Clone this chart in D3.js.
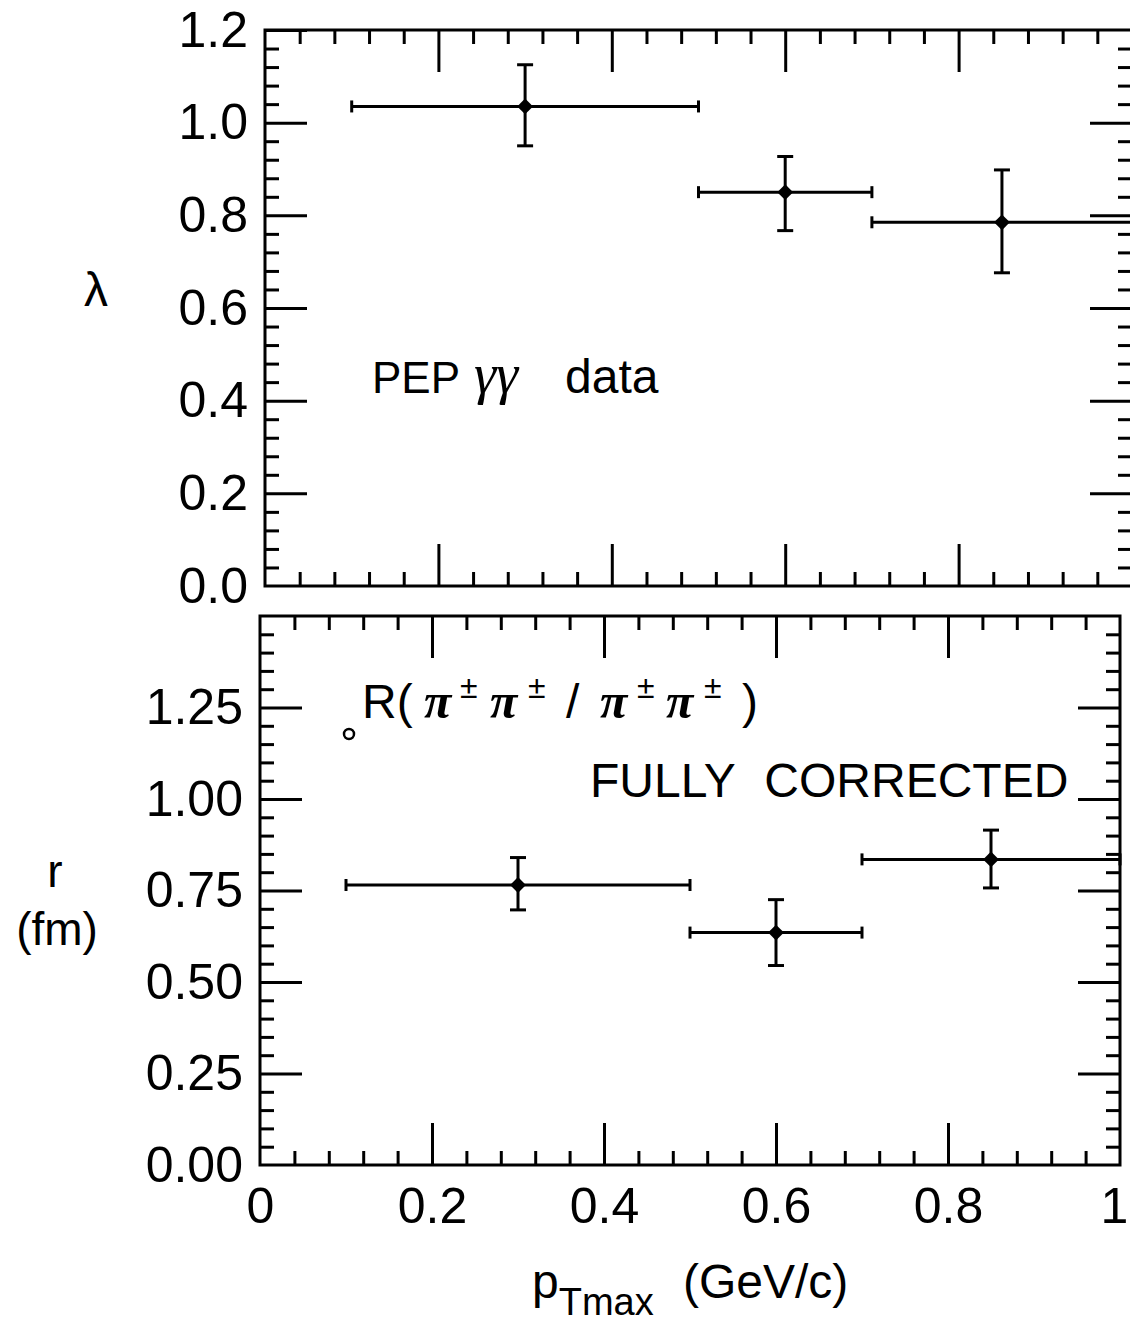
<!DOCTYPE html>
<html>
<head>
<meta charset="utf-8">
<script src="https://cdn.jsdelivr.net/npm/d3@7"></script>
<style>
  body { margin: 0; background: white; }
  svg { display: block; font-family: "Liberation Sans", Arial, sans-serif; }
</style>
</head>
<body>
<svg id="chart" width="1130" height="1325"></svg>
<script>
// bins in p_Tmax (GeV/c)
var binCenter = [0.3, 0.6, 0.85]
var binLow = [0.1, 0.5, 0.7]
var binHigh = [0.5, 0.7, 1.0]

// lambda (top panel)
var lambdaVal = [1.035, 0.85, 0.785]
var lambdaHi = [1.125, 0.927, 0.898]
var lambdaLo = [0.95, 0.767, 0.676]

// r in fm (bottom panel)
var rVal = [0.765, 0.635, 0.835]
var rHi = [0.84, 0.725, 0.915]
var rLo = [0.697, 0.545, 0.757]

// ticks
var xTicks = [0, 0.2, 0.4, 0.6, 0.8, 1]
var xTickLabels = ["0", "0.2", "0.4", "0.6", "0.8", "1"]
var lambdaTicks = [0, 0.2, 0.4, 0.6, 0.8, 1.0, 1.2]
var lambdaTickLabels = ["0.0", "0.2", "0.4", "0.6", "0.8", "1.0", "1.2"]
var rTicks = [0, 0.25, 0.5, 0.75, 1.0, 1.25]
var rTickLabels = ["0.00", "0.25", "0.50", "0.75", "1.00", "1.25"]

var svg = d3.select("#chart")

// the scan is slightly skewed, so each panel gets its own x range
var xTop = d3.scaleLinear().domain([0, 1]).range([265, 1132])
var yTop = d3.scaleLinear().domain([0, 1.2]).range([586, 30])
var xBot = d3.scaleLinear().domain([0, 1]).range([260, 1120])
var yBot = d3.scaleLinear().domain([0, 1.5]).range([1165, 616])

var majorLen = 42, minorLen = 14

function minorsOf(domain, step, majors) {
    return d3.range(domain[0] + step, domain[1] - step / 2, step)
        .filter(v => !majors.some(m => Math.abs(m - v) < 1e-6))
}

function styleAxis(g) {
    g.select(".domain").remove()
    g.selectAll("line").attr("stroke", "black").attr("stroke-width", 3)
    g.selectAll("text").attr("fill", "black").style("font-size", "50px")
}

function drawPanel(x, y, yMajors, yLabels, yMinorStep, showXLabels) {
    var g = svg.append("g")
    var yDom = y.domain()
    var xMinors = minorsOf([0, 1], 0.04, xTicks)
    var yMinors = minorsOf(yDom, yMinorStep, yMajors)
    var inner = xTicks.filter(v => v > 0 && v < 1)
    var yInner = yMajors.filter(v => v > yDom[0] && v < yDom[1])

    // left
    g.append("g").attr("transform", `translate(${x(0)},0)`)
        .call(d3.axisLeft(y).tickValues(yMajors).tickSize(-majorLen).tickPadding(17)
            .tickFormat((d, i) => yLabels[i]))
        .call(styleAxis)
        .selectAll(".tick line").filter(d => d <= yDom[0]).remove()
    g.append("g").attr("transform", `translate(${x(0)},0)`)
        .call(d3.axisLeft(y).tickValues(yMinors).tickSize(-minorLen).tickFormat(""))
        .call(styleAxis)
    // right
    g.append("g").attr("transform", `translate(${x(1)},0)`)
        .call(d3.axisRight(y).tickValues(yInner).tickSize(-majorLen).tickFormat(""))
        .call(styleAxis)
    g.append("g").attr("transform", `translate(${x(1)},0)`)
        .call(d3.axisRight(y).tickValues(yMinors).tickSize(-minorLen).tickFormat(""))
        .call(styleAxis)
    // top
    g.append("g").attr("transform", `translate(0,${y(yDom[1])})`)
        .call(d3.axisTop(x).tickValues(inner).tickSize(-majorLen).tickFormat(""))
        .call(styleAxis)
    g.append("g").attr("transform", `translate(0,${y(yDom[1])})`)
        .call(d3.axisTop(x).tickValues(xMinors).tickSize(-minorLen).tickFormat(""))
        .call(styleAxis)
    // bottom
    var bottom = g.append("g").attr("transform", `translate(0,${y(yDom[0])})`)
        .call(d3.axisBottom(x).tickValues(showXLabels ? xTicks : inner).tickSize(-majorLen).tickPadding(22)
            .tickFormat(showXLabels ? (d, i) => xTickLabels[i] : ""))
        .call(styleAxis)
    bottom.selectAll(".tick line").filter(d => d <= 0 || d >= 1).remove()
    // keep the last label inside the page
    bottom.selectAll(".tick text").filter(d => d >= 1).attr("dx", -6)
    g.append("g").attr("transform", `translate(0,${y(yDom[0])})`)
        .call(d3.axisBottom(x).tickValues(xMinors).tickSize(-minorLen).tickFormat(""))
        .call(styleAxis)

    // frame
    g.append("rect")
        .attr("x", x(0)).attr("y", y(yDom[1]))
        .attr("width", x(1) - x(0)).attr("height", y(yDom[0]) - y(yDom[1]))
        .attr("fill", "none").attr("stroke", "black").attr("stroke-width", 3)
}

function drawPoints(x, y, vals, hi, lo) {
    var g = svg.append("g").attr("stroke", "black").attr("stroke-width", 3)
    var idx = d3.range(vals.length)
    idx.forEach(i => {
        var cy = y(vals[i]), cx = x(binCenter[i])
        // horizontal bin bar with end caps
        g.append("line").attr("x1", x(binLow[i])).attr("x2", x(binHigh[i])).attr("y1", cy).attr("y2", cy)
        ;[binLow[i], binHigh[i]].forEach(b => {
            g.append("line").attr("x1", x(b)).attr("x2", x(b)).attr("y1", cy - 6).attr("y2", cy + 6)
        })
        // vertical error bar with caps
        g.append("line").attr("x1", cx).attr("x2", cx).attr("y1", y(lo[i])).attr("y2", y(hi[i]))
        ;[lo[i], hi[i]].forEach(e => {
            g.append("line").attr("x1", cx - 8).attr("x2", cx + 8).attr("y1", y(e)).attr("y2", y(e))
        })
        g.append("path")
            .attr("d", d3.symbol(d3.symbolSquare, 125)())
            .attr("transform", `translate(${cx},${cy}) rotate(45)`)
            .attr("fill", "black").attr("stroke", "none")
    })
}

drawPanel(xTop, yTop, lambdaTicks, lambdaTickLabels, 0.04, false)
drawPanel(xBot, yBot, rTicks, rTickLabels, 0.05, true)
drawPoints(xTop, yTop, lambdaVal, lambdaHi, lambdaLo)
drawPoints(xBot, yBot, rVal, rHi, rLo)

// axis titles
svg.append("text").attr("x", 96).attr("y", 306).attr("text-anchor", "middle")
    .style("font-size", "48px").text("λ")
svg.append("text").attr("x", 55).attr("y", 887).attr("text-anchor", "middle")
    .style("font-size", "46px").text("r")
svg.append("text").attr("x", 57).attr("y", 945).attr("text-anchor", "middle")
    .style("font-size", "46px").text("(fm)")

var xt = svg.append("text").attr("x", 532).attr("y", 1298).style("font-size", "48px")
xt.append("tspan").text("p")
xt.append("tspan").attr("dy", 17).style("font-size", "38px").text("Tmax")
svg.append("text").attr("x", 683).attr("y", 1298).style("font-size", "48px").text("(GeV/c)")

// panel annotations
var pep = svg.append("text").attr("x", 372).attr("y", 393).style("font-size", "44px")
pep.append("tspan").text("PEP")
pep.append("tspan").attr("x", 474).style("font-family", "Liberation Serif, serif")
    .style("font-style", "italic").style("font-size", "56px").text("γγ")
pep.append("tspan").attr("x", 565).style("font-size", "48px").text("data")

svg.append("circle").attr("cx", 349).attr("cy", 734).attr("r", 5)
    .attr("fill", "none").attr("stroke", "black").attr("stroke-width", 2.5)

var rl = svg.append("text").attr("y", 718).style("font-size", "48px")
var piStyle = t => t.style("font-family", "Liberation Serif, serif").style("font-style", "italic")
    .style("font-weight", "bold").style("font-size", "50px")
rl.append("tspan").attr("x", 362).text("R(")
var glyphs = [["π", 424], ["±", 460], ["π", 490], ["±", 528], ["/", 566], ["π", 600], ["±", 637], ["π", 666], ["±", 704], [")", 742]]
glyphs.forEach(gl => {
    var t = rl.append("tspan").attr("x", gl[1]).attr("y", gl[0] === "±" ? 698 : 718).text(gl[0])
    if (gl[0] === "π") piStyle(t)
    if (gl[0] === "±") t.style("font-size", "32px")
})

svg.append("text").attr("x", 590).attr("y", 797).style("font-size", "48px")
    .style("word-spacing", "16px").text("FULLY CORRECTED")
</script>
</body>
</html>
